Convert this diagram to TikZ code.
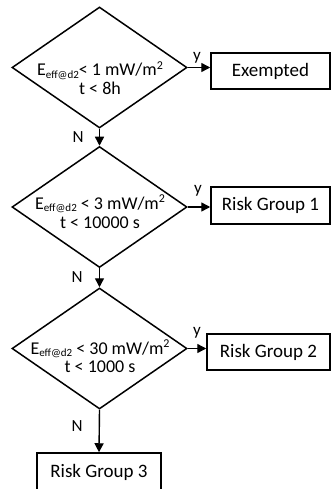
\documentclass[tikz,border=0pt]{standalone}
\usepackage{fontspec}
\setmainfont{Carlito}
\usetikzlibrary{shapes.geometric,arrows.meta}
\newcommand\sbs[1]{\raisebox{-0.3ex}{\fontsize{11}{11}\selectfont #1}}
\newcommand\sqr{\raisebox{0.75ex}{\fontsize{12}{12}\selectfont 2}}
\begin{document}
\begin{tikzpicture}[x=1pt,y=-1pt,
  dia/.style={draw,diamond,line width=1.5pt,minimum width=175pt,minimum height=121pt,inner sep=0pt},
  box/.style={draw,rectangle,line width=1.5pt,inner sep=0pt,font=\fontsize{19}{19}\selectfont},
  cond/.style={anchor=base,inner sep=0pt,font=\fontsize{18}{18}\selectfont},
  arr/.style={line width=1.4pt,-{Triangle[length=9pt,width=9pt]}},
  lab/.style={inner sep=0pt,font=\fontsize{17}{17}\selectfont}]
\useasboundingbox (0,0) rectangle (331,489);
% diamonds
\node[dia] (d1) at (99.5,67.5) {};
\node[dia] (d2) at (99.5,207) {};
\node[dia] (d3) at (99.5,348.5) {};
% condition texts
\node[cond] (c1a) at (100,76) {E\sbs{eff@d2}< 1 mW/m\sqr};
\node[cond] (c1b) at (100,95) {t < 8h};
\node[cond] (c2a) at (100,209) {E\sbs{eff@d2} < 3 mW/m\sqr};
\node[cond] (c2b) at (100,228) {t < 10000 s};
\node[cond] (c3a) at (100,354) {E\sbs{eff@d2} < 30 mW/m\sqr};
\node[cond] (c3b) at (100,372) {t < 1000 s};
% boxes
\node[box,minimum width=119pt,minimum height=36pt] (e) at (270.5,71) {Exempted};
\node[box,minimum width=119pt,minimum height=37pt] (r1) at (270.5,205.5) {Risk Group 1};
\node[box,minimum width=123pt,minimum height=36pt] (r2) at (268.5,352) {Risk Group 2};
\node[box,minimum width=124pt,minimum height=38pt] (r3) at (99,472) {Risk Group 3};
% arrows
\draw[arr] (d1.east) -- (d1.east -| e.west);
\draw[arr] (d2.east) -- (d2.east -| r1.west);
\draw[arr] (d3.east) -- (d3.east -| r2.west);
\draw[arr] (d1.south) -- (d2.north);
\draw[arr] (d2.south) -- (d3.north);
\draw[arr] (d3.south) -- (r3.north);
% labels
\node[lab] (y1) at (197,58) {y};
\node[lab] (y2) at (198,191) {y};
\node[lab] (y3) at (197,333) {y};
\node[lab] (n1) at (78,137) {N};
\node[lab] (n2) at (77,277) {N};
\node[lab] (n3) at (77,426) {N};
\end{tikzpicture}
\end{document}
